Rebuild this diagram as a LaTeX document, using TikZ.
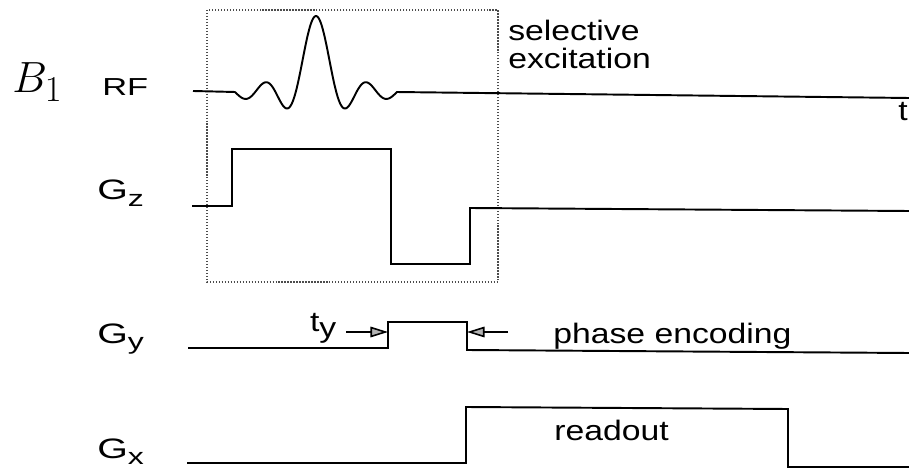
\documentclass[tikz,border=0pt]{standalone}
\usepackage{fontspec}
\usetikzlibrary{arrows.meta}
\newfontfamily\lab[FakeStretch=1.2]{Liberation Sans}
\newfontfamily\axlab[FakeStretch=1.4]{Liberation Sans}

\begin{document}
\begin{tikzpicture}[x=0.02cm,y=-0.02cm,
    sig/.style={line width=1.1pt},
    txt/.style={font=\lab\fontsize{16}{16}\selectfont,inner sep=0pt,anchor=base west},
    chan/.style={font=\axlab\fontsize{16}{16}\selectfont,inner sep=0pt,anchor=base west},
    tip/.style={-{Triangle[length=10pt,width=6pt,fill=gray!60]},line width=0.9pt}]
    \useasboundingbox (0,0) rectangle (909,469);
    % Channel labels
    \node[inner sep=0pt,anchor=base west,font=\fontsize{28}{28}\selectfont] at (12,93) (b1) {$B_1$};
    \node[chan,font=\axlab\fontsize{14}{14}\selectfont] at (102,96) (rf) {RF};
    \node[chan] at (97,200) (gz) {G\raisebox{-0.45ex}{\fontsize{13}{13}\selectfont z}};
    \node[chan] at (97,343) (gy) {G\raisebox{-0.45ex}{\fontsize{13}{13}\selectfont y}};
    \node[chan] at (97,458) (gx) {G\raisebox{-0.45ex}{\fontsize{13}{13}\selectfont x}};
    % Excitation window
    \draw[densely dotted,line width=0.7pt,gray!60!black] (207,10) rectangle (498,282);
    \node[txt,anchor=north west,align=left] at (508,20) (sel) {selective\\excitation};
    % RF pulse
    \draw[sig] (193,91) -- (235,92) -- plot[domain=-12.566:12.566,samples=200] ({316+6.45*\x},{92-76*sin(\x r)/\x}) -- (909,98);
    \node[txt] at (898,121) (t) {t};
    % Gradients
    \draw[sig] (192,206) -- (232,206) -- (232,149) -- (391,149) -- (391,264) -- (470,264) -- (470,208) -- (909,211);
    \draw[sig] (188,348) -- (388,348) -- (388,322) -- (467,322) -- (467,350) -- (909,353);
    \draw[sig] (187,463) -- (466,463) -- (466,407) -- (788,409) -- (788,467) -- (909,467);
    % Phase encoding time
    \node[txt,inner xsep=5.5pt,inner ysep=0pt] at (300,332) (ty) {t\raisebox{-0.2em}{y}};
    \coordinate (yon) at (388,332);
    \coordinate (yoff) at (467,332);
    \coordinate (phs) at (508,332);
    \draw[tip] (ty.east |- yon) -- (yon);
    \draw[tip] (phs) -- (yoff);
    \node[txt] at (553,343) (pe) {phase encoding};
    \node[txt] at (554,440) (ro) {readout};
\end{tikzpicture}
\end{document}
